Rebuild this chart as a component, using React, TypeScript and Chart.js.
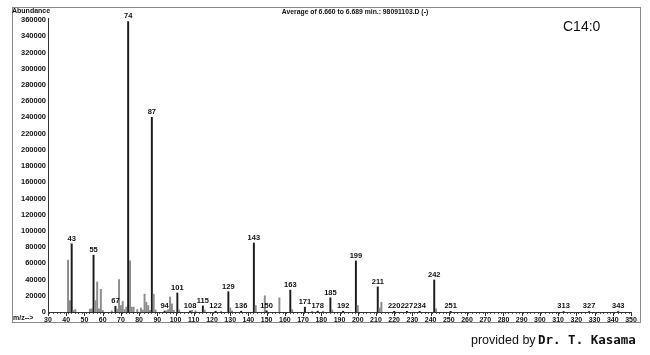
import React, { useEffect, useRef } from "react";
import { Chart, registerables } from "chart.js";

Chart.register(...registerables);

// m/z of each peak and its abundance
const peakMz = [
  41, 42, 43, 44, 45, 53, 54, 55, 56, 57, 58, 59, 60, 65, 67, 68, 69, 70, 71, 72, 73, 74, 75, 76, 77,
  79, 81, 82, 83, 84, 85, 86, 87, 88, 89, 94, 95, 96, 97, 98, 99, 101, 102, 108, 109, 111, 115, 116,
  122, 125, 129, 130, 131, 136, 143, 144, 149, 150, 157, 163, 164, 171, 175, 178, 181, 185, 186, 192,
  199, 200, 211, 212, 213, 220, 227, 234, 242, 243, 251, 313, 327, 343,
];
const peakAbundance = [
  64000, 14000, 84000, 2000, 3000, 3500, 4000, 70000, 14000, 37000, 4000, 28000, 2000, 1500, 7000, 3500,
  40000, 8000, 13000, 3000, 6000, 358000, 63000, 6000, 6000,
  3000, 5000, 2500, 22000, 12000, 8000, 2000, 240000, 22000, 2500, 1200, 1500, 3000, 18500, 10000, 2000,
  23500, 2500, 1200, 2000, 1500, 7500, 2500,
  1000, 1000, 25000, 5000, 1500, 1000, 85000, 8000, 20000, 1500, 17500, 27000, 3000, 6000, 1000, 1000,
  1000, 17500, 2500, 1000,
  63000, 8000, 31000, 5000, 12000, 800, 800, 800, 39500, 4000, 800, 600, 600, 600,
];
// peaks that carry an m/z label
const labeledPeaks = [
  43, 55, 67, 74, 87, 94, 101, 108, 115, 122, 129, 136, 143, 150, 163, 171, 178, 185, 192, 199, 211,
  220, 227, 234, 242, 251, 313, 327, 343,
];
const yTickValues = [
  0, 20000, 40000, 60000, 80000, 100000, 120000, 140000, 160000, 180000, 200000, 220000, 240000,
  260000, 280000, 300000, 320000, 340000, 360000,
];
const xMajorTicks = [
  30, 40, 50, 60, 70, 80, 90, 100, 110, 120, 130, 140, 150, 160, 170, 180, 190, 200, 210, 220, 230,
  240, 250, 260, 270, 280, 290, 300, 310, 320, 330, 340, 350,
];
const titleText = "Average of 6.660 to 6.689 min.: 98091103.D (-)";
const sampleText = "C14:0";
const yAxisTitle = "Abundance";
const xAxisTitle = "m/z-->";
const creditPrefix = "provided by ";
const creditName = "Dr. T. Kasama";

const SANS = '"Liberation Sans", Arial, sans-serif';

const overlay = {
  id: "overlay",
  afterDraw(chart: any) {
    const ctx = chart.ctx as CanvasRenderingContext2D;
    const xs = chart.scales.x;
    const ys = chart.scales.y;
    ctx.save();
    // frame
    ctx.strokeStyle = "#8a8a8a";
    ctx.lineWidth = 1;
    ctx.strokeRect(12.5, 7.5, 628, 315);
    // major x ticks
    ctx.strokeStyle = "#333";
    for (const v of xMajorTicks) {
      const px = Math.round(xs.getPixelForValue(v)) + 0.5;
      ctx.beginPath();
      ctx.moveTo(px, ys.bottom);
      ctx.lineTo(px, ys.bottom + 4);
      ctx.stroke();
    }
    // peak labels
    ctx.font = `bold 7.5px ${SANS}`;
    ctx.fillStyle = "#111";
    ctx.textAlign = "center";
    ctx.textBaseline = "bottom";
    for (const m of labeledPeaks) {
      const i = peakMz.indexOf(m);
      if (i < 0) continue;
      const px = xs.getPixelForValue(m);
      const py = ys.getPixelForValue(peakAbundance[i]);
      ctx.fillText(String(m), px, py - 1.5);
    }
    // title
    ctx.font = `bold 6.8px ${SANS}`;
    ctx.textBaseline = "middle";
    ctx.fillText(titleText, 355, 12);
    // axis titles
    ctx.textAlign = "left";
    ctx.font = `bold 7px ${SANS}`;
    ctx.fillText(yAxisTitle, 12, 11.5);
    ctx.font = `bold 7px ${SANS}`;
    ctx.fillText(xAxisTitle, 13, 318.5);
    // sample name
    ctx.font = `14px ${SANS}`;
    ctx.textAlign = "left";
    ctx.fillText(sampleText, 563, 27);
    // credit
    ctx.textBaseline = "alphabetic";
    ctx.font = `12.5px ${SANS}`;
    ctx.fillText(creditPrefix, 471, 344);
    ctx.font = `bold 12.5px "DejaVu Sans Mono", "Liberation Mono", monospace`;
    ctx.fillText(creditName, 538, 344);
    ctx.restore();
  },
};

export default function App() {
  const ref = useRef<HTMLCanvasElement | null>(null);
  useEffect(() => {
    if (!ref.current) return;
    const points = peakMz.map((m, i) => ({ x: m, y: peakAbundance[i] }));
    const colors = peakMz.map((m) => (labeledPeaks.includes(m) ? "#1c1c1c" : "#8c8c8c"));
    const chart = new Chart(ref.current, {
      type: "bar",
      data: {
        datasets: [
          {
            data: points as any,
            backgroundColor: colors,
            borderWidth: 0,
            barThickness: 1.3,
          },
        ],
      },
      options: {
        animation: false,
        responsive: false,
        events: [],
        layout: { padding: { left: 0, top: 18, right: 19, bottom: 0 } },
        plugins: { legend: { display: false }, tooltip: { enabled: false }, title: { display: false } },
        scales: {
          x: {
            type: "linear",
            min: 30,
            max: 350,
            offset: false,
            afterFit: (s: any) => {
              s.height = 43;
            },
            grid: { display: true, drawOnChartArea: false, drawTicks: true, tickLength: 2, color: "#555" },
            border: { display: true, color: "#333", width: 1 },
            ticks: {
              stepSize: 2,
              autoSkip: false,
              maxRotation: 0,
              minRotation: 0,
              padding: 2,
              color: "#111",
              font: { family: '"Liberation Sans", Arial, sans-serif', size: 7, weight: "bold" },
              callback: (v: any) => (Number(v) % 10 === 0 ? String(v) : ""),
            },
          },
          y: {
            type: "linear",
            min: 0,
            max: 362500,
            afterFit: (s: any) => {
              s.width = 48;
            },
            afterBuildTicks: (s: any) => {
              s.ticks = yTickValues.map((v) => ({ value: v }));
            },
            grid: { display: false, drawTicks: false, tickLength: 0 },
            border: { display: true, color: "#333", width: 1 },
            ticks: {
              padding: 2,
              color: "#111",
              font: { family: '"Liberation Sans", Arial, sans-serif', size: 7.5, weight: "bold" },
              callback: (v: any) => String(v),
            },
          },
        },
      },
      plugins: [overlay],
    });
    return () => chart.destroy();
  }, []);
  return (
    <div style={{ position: "absolute", left: 0, top: 0, width: 650, height: 355, background: "#fff" }}>
      <canvas ref={ref} width={650} height={355} style={{ display: "block" }} />
    </div>
  );
}
